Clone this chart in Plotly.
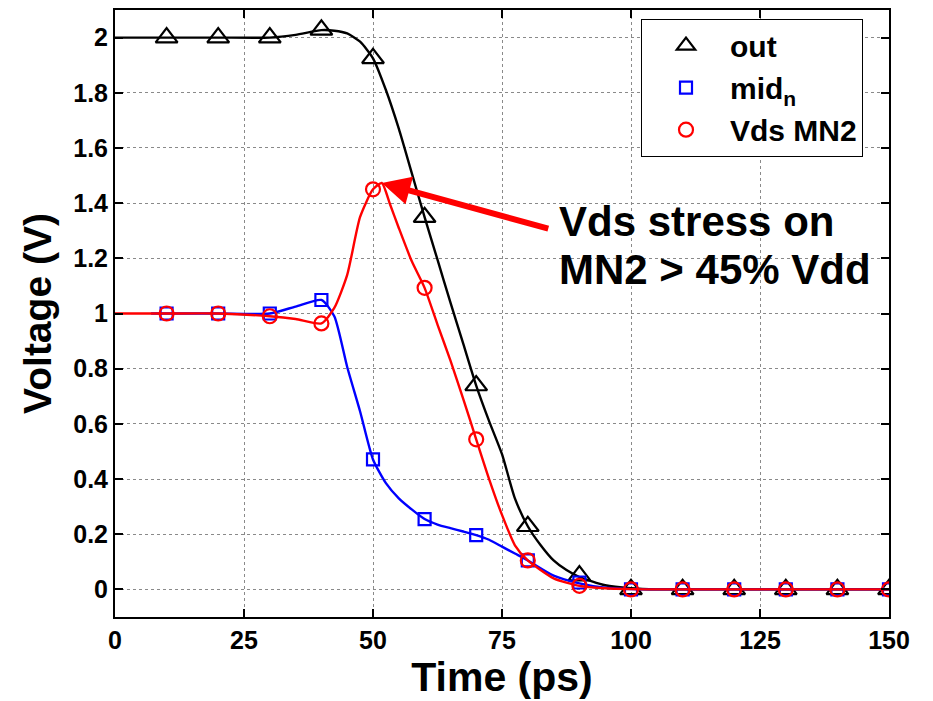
import plotly.graph_objects as go

# ---- data ----
t_marks = [10, 20, 30, 40, 50, 60, 70, 80, 90, 100, 110, 120, 130, 140, 150]
out_marks = [2.0, 2.0, 2.0, 2.028, 1.925, 1.349, 0.739, 0.229, 0.05, 0.0, 0.0, 0.0, 0.0, 0.0, 0.0]
midn_marks = [1.0, 1.0, 1.0, 1.049, 0.471, 0.255, 0.197, 0.105, 0.025, 0.0, 0.0, 0.0, 0.0, 0.0, 0.0]
vds_marks = [1.0, 1.0, 0.99, 0.964, 1.45, 1.093, 0.544, 0.105, 0.013, 0.0, 0.0, 0.0, 0.0, 0.0, 0.0]

t_out = [0, 10, 20, 30, 35, 40, 42.5, 45, 47.5, 50, 52.5, 55, 57.5, 60, 62.5, 65, 67.5, 70,
         72.5, 75, 77.5, 80, 82.5, 85, 87.5, 90, 95, 100, 105, 150]
out_curve = [2.0, 2.0, 2.0, 2.0, 2.01, 2.027, 2.025, 2.015, 1.985, 1.925, 1.81, 1.67, 1.51, 1.349,
             1.195, 1.04, 0.89, 0.739, 0.61, 0.49, 0.33, 0.229, 0.16, 0.105, 0.07, 0.045,
             0.015, 0.004, 0.0, 0.0]

t_mid = [7, 10, 20, 30, 35, 40, 42.5, 45, 47.5, 50, 52.5, 55, 57.5, 60, 62.5, 65, 67.5, 70,
         72.5, 75, 77.5, 80, 85, 90, 95, 100, 105, 150]
mid_curve = [1.0, 1.0, 1.0, 1.0, 1.025, 1.049, 0.99, 0.806, 0.645, 0.471, 0.385, 0.33, 0.29,
             0.255, 0.235, 0.222, 0.21, 0.197, 0.18, 0.155, 0.13, 0.105, 0.05, 0.022, 0.006,
             0.001, 0.0, 0.0]

t_vds = [0, 10, 20, 30, 35, 40, 42.5, 45, 47.5, 50, 51.7, 53.3, 55, 57.5, 60, 62.5, 65, 67.5,
         70, 72.5, 75, 77.5, 80, 85, 90, 95, 100, 105, 150]
vds_curve = [1.0, 1.0, 1.0, 0.99, 0.98, 0.964, 1.02, 1.14, 1.35, 1.45, 1.473, 1.396, 1.31, 1.19,
             1.093, 0.96, 0.83, 0.69, 0.544, 0.40, 0.27, 0.16, 0.105, 0.04, 0.013, 0.004,
             0.001, 0.0, 0.0]

x_ticks = [0, 25, 50, 75, 100, 125, 150]
y_ticks = [0, 0.2, 0.4, 0.6, 0.8, 1, 1.2, 1.4, 1.6, 1.8, 2]
y_ticklabels = ["0", "0.2", "0.4", "0.6", "0.8", "1", "1.2", "1.4", "1.6", "1.8", "2"]

FONT = "Liberation Sans, Arial, Helvetica, sans-serif"

fig = go.Figure()

series = [
    ("out", t_out, out_curve, out_marks, "black", "triangle-up-open", 19),
    ("mid<sub>n</sub>", t_mid, mid_curve, midn_marks, "#0000ff", "square-open", 12),
    ("Vds MN2", t_vds, vds_curve, vds_marks, "#ff0000", "circle-open", 14),
]
for name, tc, vc, vm, col, sym, sz in series:
    fig.add_trace(go.Scatter(x=tc, y=vc, mode="lines",
                             line=dict(color=col, width=2.4, shape="spline", smoothing=0.6),
                             showlegend=False, hoverinfo="skip"))
    fig.add_trace(go.Scatter(x=t_marks, y=vm, mode="markers", name=name,
                             marker=dict(symbol=sym, size=sz, color=col, line=dict(color=col, width=2.2))))

axis_common = dict(
    showline=True, linecolor="black", linewidth=2, mirror="ticks",
    ticks="inside", ticklen=8, tickwidth=2, tickcolor="black",
    showgrid=True, gridcolor="#8a8a8a", gridwidth=1, griddash="dot",
    zeroline=False,
    tickfont=dict(family=FONT, size=25, color="black", weight="bold"),
)

fig.update_xaxes(range=[0, 150], tickvals=x_ticks,
                 title=dict(text="Time (ps)", font=dict(family=FONT, size=41, color="black", weight="bold"), standoff=8),
                 **axis_common)
fig.update_yaxes(range=[-0.1, 2.1], tickvals=y_ticks, ticktext=y_ticklabels,
                 title=dict(text="Voltage (V)", font=dict(family=FONT, size=39, color="black", weight="bold"), standoff=10),
                 **axis_common)

# arrow
fig.add_annotation(x=51.7, y=1.473, xref="x", yref="y", text="", showarrow=True,
                   ax=168, ay=46, axref="pixel", ayref="pixel",
                   arrowhead=2, arrowsize=0.95, arrowwidth=6, arrowcolor="#ff0000", standoff=0)
fig.add_annotation(x=(557 - 115) / 774, y=(617.3 - 220) / 609, xref="paper", yref="paper",
                   text="Vds stress on", showarrow=False, xanchor="left", yanchor="middle",
                   font=dict(family=FONT, size=42, color="black", weight="bold"))
fig.add_annotation(x=(557 - 115) / 774, y=(617.3 - 269) / 609, xref="paper", yref="paper",
                   text="MN2 > 45% Vdd", showarrow=False, xanchor="left", yanchor="middle",
                   font=dict(family=FONT, size=42, color="black", weight="bold"))

fig.update_layout(
    width=933, height=701,
    margin=dict(l=115, r=44, t=8, b=84),
    paper_bgcolor="white", plot_bgcolor="white",
    font=dict(family=FONT, color="black"),
    legend=dict(x=(641 - 115) / 774, y=(617.3 - 17) / 609, xanchor="left", yanchor="top",
                bgcolor="white", bordercolor="black", borderwidth=1,
                font=dict(family=FONT, size=30, color="black", weight="bold"),
                itemwidth=78, entrywidth=240, entrywidthmode="pixels"),
)

fig.write_html("out.html")
